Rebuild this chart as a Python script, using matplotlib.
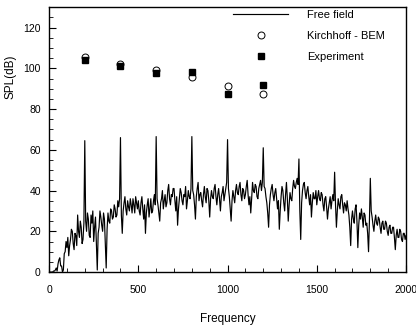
import numpy as np
import matplotlib.pyplot as plt
from matplotlib.ticker import MultipleLocator

plt.rcParams['font.family'] = ['Liberation Sans', 'DejaVu Sans']

# free field spectrum, read every 5 Hz from 0 to 2000 Hz (one row = 100 Hz)
freq = np.arange(0, 2001, 5)
spl_free = [
    0, 0, 0, 0, 0, 0.5, 0.5, 1, 2, 0.5, 4, 6, 7, 3, 3, 0, 1, 9, 10, 15,
    12, 17, 8, 13, 16, 21, 20, 14, 11, 19, 18, 13, 28, 20, 17, 25, 22, 14, 16, 24,
    64.5, 25, 20, 29, 26, 18, 17, 28, 24, 30, 15, 22, 27, 14, 1, 19, 22, 30, 27, 23,
    20, 29, 26, 14, 2, 21, 29, 25, 24, 31, 30, 26, 27, 33, 31, 27, 28, 35, 32, 36,
    66, 28, 19, 30, 34, 37, 31, 28, 35, 32, 30, 36, 33, 29, 36, 33, 29, 37, 34, 31,
    35, 30, 28, 34, 37, 31, 26, 33, 19, 29, 33, 36, 27, 31, 36, 29, 30, 35, 38, 33,
    66.5, 36, 33, 29, 25, 34, 36, 40, 31, 35, 38, 32, 34, 40, 43, 36, 33, 38, 37, 41,
    41, 35, 30, 37, 23, 31, 36, 41, 39, 35, 33, 38, 37, 42, 31, 35, 40, 37, 36, 41,
    66.5, 40, 38, 33, 26, 37, 41, 44, 35, 38, 39, 35, 32, 38, 42, 37, 34, 41, 40, 35,
    27, 36, 40, 37, 36, 41, 43, 37, 33, 38, 41, 36, 30, 37, 39, 42, 35, 38, 41, 44,
    65, 41, 37, 31, 25, 35, 40, 37, 34, 40, 43, 39, 38, 42, 44, 38, 35, 41, 40, 36,
    38, 42, 45, 38, 33, 37, 29, 36, 44, 40, 39, 43, 42, 37, 36, 41, 43, 45, 40, 44,
    61, 42, 41, 37, 34, 29, 22, 33, 38, 41, 43, 38, 35, 39, 41, 36, 31, 35, 21, 30,
    37, 42, 40, 34, 30, 38, 44, 36, 25, 33, 39, 36, 35, 41, 45, 42, 41, 44, 46, 43,
    55.5, 30, 16, 34, 40, 43, 44, 39, 36, 40, 42, 37, 33, 38, 27, 34, 39, 36, 36, 40,
    33, 37, 40, 36, 35, 39, 38, 33, 30, 36, 37, 32, 26, 31, 34, 37, 31, 35, 38, 35,
    49, 33, 22, 30, 36, 33, 31, 37, 38, 33, 29, 34, 33, 30, 35, 31, 28, 22, 13, 26,
    30, 26, 24, 31, 33, 25, 12, 23, 29, 26, 31, 27, 22, 29, 28, 23, 24, 19, 10, 25,
    46, 30, 27, 23, 20, 25, 28, 24, 23, 27, 26, 22, 19, 24, 25, 21, 21, 25, 24, 20,
    18, 22, 23, 19, 19, 22, 22, 17, 11, 18, 21, 17, 17, 21, 20, 16, 15, 19, 19, 16,
    18,
]

# discrete results
freq_pts = [200, 400, 600, 800, 1000, 1200]
spl_kirchhoff = [105.5, 102, 99, 95.5, 91.5, 87.5]
spl_experiment = [104, 101, 97.5, 98, 87.5, 92]

fig = plt.figure(figsize=(4.16, 3.27), dpi=100)
ax = fig.add_axes([0.118, 0.168, 0.858, 0.810])

ax.plot(freq, spl_free, color='black', lw=0.85, label='Free field')
ax.plot(freq_pts, spl_kirchhoff, ls='none', marker='o', ms=5, mfc='white',
        mec='black', mew=0.7, label='Kirchhoff - BEM')
ax.plot(freq_pts, spl_experiment, ls='none', marker='s', ms=4, mfc='black',
        mec='black', label='Experiment')

ax.set_xlim(0, 2000)
ax.set_ylim(0, 130)
ax.xaxis.set_major_locator(MultipleLocator(500))
ax.xaxis.set_minor_locator(MultipleLocator(100))
ax.yaxis.set_major_locator(MultipleLocator(20))
ax.yaxis.set_minor_locator(MultipleLocator(5))
ax.tick_params(which='both', direction='in', labelsize=7.5)
ax.tick_params(axis='x', pad=9)
ax.tick_params(axis='y', pad=6)
ax.tick_params(which='major', length=5)
ax.tick_params(which='minor', length=3)
for s in ax.spines.values():
    s.set_linewidth(1.0)

ax.set_xlabel('Frequency', fontsize=8.5)
ax.set_ylabel('SPL(dB)', fontsize=8.5)
ax.xaxis.set_label_coords(0.5, -0.155)
ax.yaxis.set_label_coords(-0.09, 0.736)

ax.legend(loc='upper left', bbox_to_anchor=(0.515, 0.99), frameon=False,
          fontsize=8, handlelength=5, handletextpad=1.7, labelspacing=1.0,
          borderpad=0, borderaxespad=0)

plt.savefig('out.png', dpi=100)
